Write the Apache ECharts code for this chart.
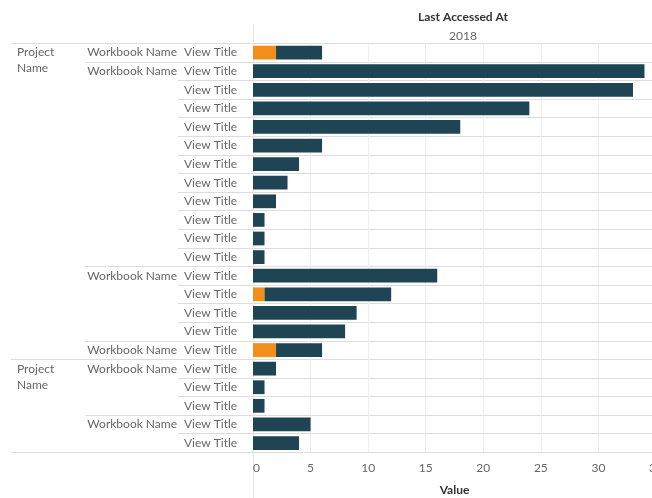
<!DOCTYPE html>
<html>
<head>
<meta charset="utf-8">
<script src="https://cdn.jsdelivr.net/npm/echarts@6/dist/echarts.min.js"></script>
<style>
  html, body { margin: 0; padding: 0; background: #fff; }
  #chart { width: 652px; height: 498px; }
</style>
</head>
<body>
<div id="chart"></div>
<script>
// rows, top to bottom
const rows = ['r1','r2','r3','r4','r5','r6','r7','r8','r9','r10','r11','r12',
              'r13','r14','r15','r16','r17','r18','r19','r20','r21','r22']
const viewTitles = rows.map(() => 'View Title')
const workbookLabels = ['Workbook Name','Workbook Name','','','','','','','','','','',
                        'Workbook Name','','','','Workbook Name','Workbook Name','','','Workbook Name','']
const projectLabels = ['Project Name','','','','','','','','','','','',
                       '','','','','','Project Name','','','','']
// boundaries where the workbook / project groups start
const workbookStarts = [0, 1, 12, 16, 17, 20]
const projectStarts = [0, 17]

const orangeValues = [2,0,0,0,0,0,0,0,0,0,0,0,0,1,0,0,2,0,0,0,0,0]
const darkValues   = [4,34,33,24,18,6,4,3,2,1,1,1,16,11,9,8,4,2,1,1,5,4]

const xTicks = { min: 0, max: 35, interval: 5 }

const font = 'Lato, "Open Sans", sans-serif'
const textGray = '#666'
const sepColor = '#dcdcdc'

let chart = echarts.init(document.getElementById('chart'))

function catAxis(labels, opts) {
  return Object.assign({
    type: 'category',
    gridIndex: 0,
    data: rows,
    inverse: true,
    position: 'left',
    axisLine: { show: false },
    axisLabel: { show: false },
    axisTick: { show: false },
    splitLine: { show: false }
  }, opts)
}

let option = {
  animation: false,
  textStyle: { fontFamily: font },
  title: [
    { text: 'Last Accessed At', left: 458, top: 6, textAlign: 'center',
      textStyle: { fontSize: 12, fontWeight: 'bold', color: '#333', fontFamily: font } },
    { text: '2018', left: 458, top: 25, textAlign: 'center',
      textStyle: { fontSize: 12, fontWeight: 'normal', color: textGray, fontFamily: font } }
  ],
  grid: [
    { left: 253, right: -4, top: 43.3, bottom: 45.7, outerBoundsMode: 'none', containLabel: false },
    { left: 253, right: -4, top: 24, bottom: 0, outerBoundsMode: 'none', containLabel: false }
  ],
  xAxis: [
    {
      type: 'value', gridIndex: 0,
      min: xTicks.min, max: xTicks.max, interval: xTicks.interval,
      name: 'Value', nameLocation: 'middle', nameGap: 32,
      nameTextStyle: { fontSize: 12, fontWeight: 'bold', color: '#333', fontFamily: font },
      axisLine: { show: false },
      axisTick: { show: false },
      axisLabel: { color: textGray, fontSize: 12, margin: 10, alignMinLabel: 'left', fontFamily: font },
      splitLine: { show: true, lineStyle: { color: '#efefef', width: 1 } }
    },
    { type: 'value', gridIndex: 1, show: false, min: 0, max: 1 }
  ],
  yAxis: [
    // view title level
    catAxis(viewTitles, {
      axisLabel: {
        show: true, interval: 0, align: 'left', margin: 69,
        color: textGray, fontSize: 12, fontFamily: font,
        formatter: (v, i) => viewTitles[i]
      },
      axisTick: { show: true, interval: 0, length: 75, lineStyle: { color: sepColor } },
      splitLine: { show: true, interval: 0, lineStyle: { color: sepColor, width: 1 } }
    }),
    // workbook level
    catAxis(workbookLabels, {
      axisLabel: {
        show: true, interval: 0, align: 'right', margin: 76,
        color: textGray, fontSize: 12, fontFamily: font,
        formatter: (v, i) => workbookLabels[i]
      },
      axisTick: {
        show: true, length: 168, lineStyle: { color: sepColor },
        interval: (i) => workbookStarts.includes(i)
      }
    }),
    // project level
    catAxis(projectLabels, {
      axisLabel: {
        show: true, interval: 0, align: 'left', margin: 236,
        color: textGray, fontSize: 12, lineHeight: 16, fontFamily: font,
        formatter: (v, i) => projectLabels[i] ? '\n' + projectLabels[i].replace(' ', '\n') : ''
      },
      axisTick: {
        show: true, length: 242, lineStyle: { color: sepColor },
        interval: (i) => projectStarts.includes(i)
      }
    }),
    // zero line running through header and footer
    {
      type: 'value', gridIndex: 1, min: 0, max: 1,
      axisLine: { show: true, onZero: false, lineStyle: { color: '#e4e4e4' } },
      axisTick: { show: false }, axisLabel: { show: false }, splitLine: { show: false }
    }
  ],
  series: [
    {
      type: 'bar', stack: 'total', xAxisIndex: 0, yAxisIndex: 0,
      barCategoryGap: '26%',
      itemStyle: { color: '#f28e1c' },
      data: orangeValues
    },
    {
      type: 'bar', stack: 'total', xAxisIndex: 0, yAxisIndex: 0,
      barCategoryGap: '26%',
      itemStyle: { color: '#1f4554' },
      data: darkValues
    }
  ]
}

chart.setOption(option)
</script>
</body>
</html>
